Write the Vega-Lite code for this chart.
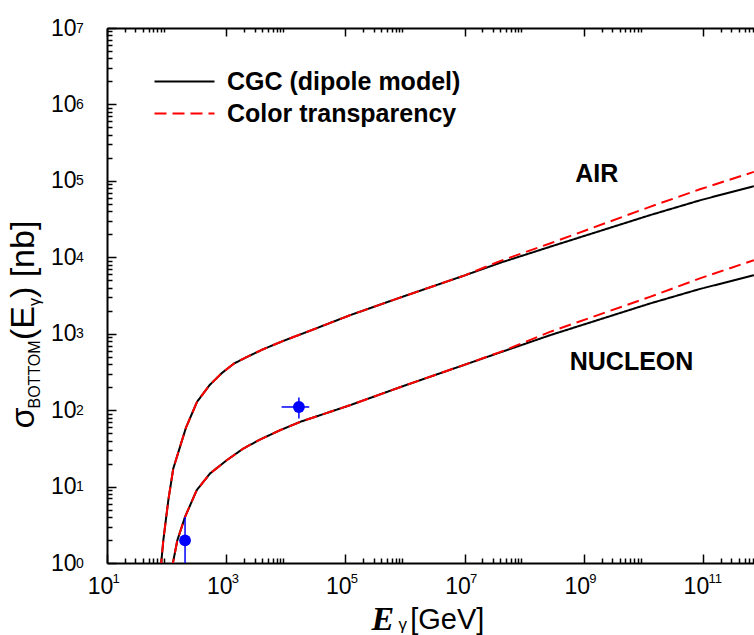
{
  "$schema": "https://vega.github.io/schema/vega-lite/v6.json",
  "autosize": {"type": "none"},
  "padding": {"left": 107, "top": 28, "right": 0, "bottom": 72},
  "width": 647,
  "height": 535,
  "background": "white",
  "datasets": {
    "curves": [
      {"E": 79.1, "sigma": 0.80, "model": "CGC (dipole model)", "target": "air"},
      {"E": 88.1, "sigma": 1.98, "model": "CGC (dipole model)", "target": "air"},
      {"E": 106.9, "sigma": 6.62, "model": "CGC (dipole model)", "target": "air"},
      {"E": 129.4, "sigma": 17.2, "model": "CGC (dipole model)", "target": "air"},
      {"E": 211.8, "sigma": 59.2, "model": "CGC (dipole model)", "target": "air"},
      {"E": 323.6, "sigma": 128, "model": "CGC (dipole model)", "target": "air"},
      {"E": 524.8, "sigma": 212, "model": "CGC (dipole model)", "target": "air"},
      {"E": 851, "sigma": 307, "model": "CGC (dipole model)", "target": "air"},
      {"E": 1352, "sigma": 407, "model": "CGC (dipole model)", "target": "air"},
      {"E": 2234, "sigma": 497, "model": "CGC (dipole model)", "target": "air"},
      {"E": 4188, "sigma": 627, "model": "CGC (dipole model)", "target": "air"},
      {"E": 9078, "sigma": 805, "model": "CGC (dipole model)", "target": "air"},
      {"E": 28900, "sigma": 1135, "model": "CGC (dipole model)", "target": "air"},
      {"E": 119400, "sigma": 1746, "model": "CGC (dipole model)", "target": "air"},
      {"E": 824000, "sigma": 2965, "model": "CGC (dipole model)", "target": "air"},
      {"E": 10160000, "sigma": 5808, "model": "CGC (dipole model)", "target": "air"},
      {"E": 39300000, "sigma": 8453, "model": "CGC (dipole model)", "target": "air"},
      {"E": 271000000, "sigma": 13710, "model": "CGC (dipole model)", "target": "air"},
      {"E": 12900000000, "sigma": 35560, "model": "CGC (dipole model)", "target": "air"},
      {"E": 89000000000, "sigma": 55600, "model": "CGC (dipole model)", "target": "air"},
      {"E": 718000000000, "sigma": 85310, "model": "CGC (dipole model)", "target": "air"},
      {"E": 120.8, "sigma": 0.80, "model": "CGC (dipole model)", "target": "nucleon"},
      {"E": 151.4, "sigma": 1.98, "model": "CGC (dipole model)", "target": "nucleon"},
      {"E": 203.7, "sigma": 4.0, "model": "CGC (dipole model)", "target": "nucleon"},
      {"E": 319.9, "sigma": 8.95, "model": "CGC (dipole model)", "target": "nucleon"},
      {"E": 534.6, "sigma": 14.8, "model": "CGC (dipole model)", "target": "nucleon"},
      {"E": 1019, "sigma": 22.1, "model": "CGC (dipole model)", "target": "nucleon"},
      {"E": 1936, "sigma": 31.4, "model": "CGC (dipole model)", "target": "nucleon"},
      {"E": 3690, "sigma": 41.2, "model": "CGC (dipole model)", "target": "nucleon"},
      {"E": 8000, "sigma": 54.6, "model": "CGC (dipole model)", "target": "nucleon"},
      {"E": 17300, "sigma": 70.1, "model": "CGC (dipole model)", "target": "nucleon"},
      {"E": 119400, "sigma": 115.9, "model": "CGC (dipole model)", "target": "nucleon"},
      {"E": 824000, "sigma": 199.5, "model": "CGC (dipole model)", "target": "nucleon"},
      {"E": 10160000, "sigma": 394, "model": "CGC (dipole model)", "target": "nucleon"},
      {"E": 39300000, "sigma": 568, "model": "CGC (dipole model)", "target": "nucleon"},
      {"E": 271000000, "sigma": 955, "model": "CGC (dipole model)", "target": "nucleon"},
      {"E": 12900000000, "sigma": 2483, "model": "CGC (dipole model)", "target": "nucleon"},
      {"E": 89000000000, "sigma": 3850, "model": "CGC (dipole model)", "target": "nucleon"},
      {"E": 718000000000, "sigma": 5834, "model": "CGC (dipole model)", "target": "nucleon"},
      {"E": 79.1, "sigma": 0.80, "model": "Color transparency", "target": "air"},
      {"E": 88.1, "sigma": 1.98, "model": "Color transparency", "target": "air"},
      {"E": 106.9, "sigma": 6.62, "model": "Color transparency", "target": "air"},
      {"E": 129.4, "sigma": 17.2, "model": "Color transparency", "target": "air"},
      {"E": 211.8, "sigma": 59.2, "model": "Color transparency", "target": "air"},
      {"E": 323.6, "sigma": 128, "model": "Color transparency", "target": "air"},
      {"E": 524.8, "sigma": 212, "model": "Color transparency", "target": "air"},
      {"E": 851, "sigma": 307, "model": "Color transparency", "target": "air"},
      {"E": 1352, "sigma": 407, "model": "Color transparency", "target": "air"},
      {"E": 2234, "sigma": 497, "model": "Color transparency", "target": "air"},
      {"E": 4188, "sigma": 627, "model": "Color transparency", "target": "air"},
      {"E": 9078, "sigma": 805, "model": "Color transparency", "target": "air"},
      {"E": 28900, "sigma": 1135, "model": "Color transparency", "target": "air"},
      {"E": 119400, "sigma": 1746, "model": "Color transparency", "target": "air"},
      {"E": 824000, "sigma": 2965, "model": "Color transparency", "target": "air"},
      {"E": 10160000, "sigma": 5808, "model": "Color transparency", "target": "air"},
      {"E": 39300000, "sigma": 8913, "model": "Color transparency", "target": "air"},
      {"E": 271000000, "sigma": 15170, "model": "Color transparency", "target": "air"},
      {"E": 12900000000, "sigma": 45710, "model": "Color transparency", "target": "air"},
      {"E": 89000000000, "sigma": 77500, "model": "Color transparency", "target": "air"},
      {"E": 718000000000, "sigma": 131200, "model": "Color transparency", "target": "air"},
      {"E": 120.8, "sigma": 0.80, "model": "Color transparency", "target": "nucleon"},
      {"E": 151.4, "sigma": 1.98, "model": "Color transparency", "target": "nucleon"},
      {"E": 203.7, "sigma": 4.0, "model": "Color transparency", "target": "nucleon"},
      {"E": 319.9, "sigma": 8.95, "model": "Color transparency", "target": "nucleon"},
      {"E": 534.6, "sigma": 14.8, "model": "Color transparency", "target": "nucleon"},
      {"E": 1019, "sigma": 22.1, "model": "Color transparency", "target": "nucleon"},
      {"E": 1936, "sigma": 31.4, "model": "Color transparency", "target": "nucleon"},
      {"E": 3690, "sigma": 41.2, "model": "Color transparency", "target": "nucleon"},
      {"E": 8000, "sigma": 54.6, "model": "Color transparency", "target": "nucleon"},
      {"E": 17300, "sigma": 70.1, "model": "Color transparency", "target": "nucleon"},
      {"E": 119400, "sigma": 115.9, "model": "Color transparency", "target": "nucleon"},
      {"E": 824000, "sigma": 199.5, "model": "Color transparency", "target": "nucleon"},
      {"E": 10160000, "sigma": 394, "model": "Color transparency", "target": "nucleon"},
      {"E": 39300000, "sigma": 575, "model": "Color transparency", "target": "nucleon"},
      {"E": 271000000, "sigma": 1057, "model": "Color transparency", "target": "nucleon"},
      {"E": 12900000000, "sigma": 3034, "model": "Color transparency", "target": "nucleon"},
      {"E": 89000000000, "sigma": 5300, "model": "Color transparency", "target": "nucleon"},
      {"E": 718000000000, "sigma": 9162, "model": "Color transparency", "target": "nucleon"}
    ],
    "pts": [
      {"E": 204, "sigma": 1.98, "Elo": 204, "Ehi": 204, "slo": 0.5, "shi": 4.0},
      {"E": 16600, "sigma": 110, "Elo": 8500, "Ehi": 24800, "slo": 77.6, "shi": 146}
    ],
    "labels": [
      {"E": 1660000000, "sigma": 122000, "label": "AIR"},
      {"E": 6340000000, "sigma": 421, "label": "NUCLEON"}
    ]
  },
  "resolve": {
    "scale": {"x": "shared", "y": "shared", "color": "shared", "strokeDash": "shared"},
    "axis": {"x": "independent", "y": "independent"}
  },
  "layer": [
    {
      "data": {"name": "curves"},
      "transform": [{"filter": "datum.model === 'CGC (dipole model)'"}],
      "mark": {"type": "line", "clip": true, "strokeWidth": 2},
      "encoding": {
        "x": {"field": "E", "type": "quantitative",
          "scale": {"type": "log", "domain": [10, 720000000000], "nice": false},
          "axis": {"orient": "bottom", "values": [10, 1000, 100000, 10000000, 1000000000, 100000000000],
            "labelExpr": "'10'", "ticks": false, "domain": true, "domainWidth": 2,
            "labelFontSize": 23, "labelAlign": "center", "labelBaseline": "top", "labelOffset": -7, "labelPadding": 12,
            "title": "E", "titleFont": "Liberation Serif", "titleFontSize": 34, "titleFontWeight": "bold", "titleFontStyle": "italic",
            "titleX": 264, "titleY": 66, "titleAlign": "left", "titleBaseline": "alphabetic", "titleAngle": 0}},
        "y": {"field": "sigma", "type": "quantitative",
          "scale": {"type": "log", "domain": [1, 10000000], "nice": false},
          "axis": {"orient": "left", "values": [1, 10, 100, 1000, 10000, 100000, 1000000, 10000000],
            "labelExpr": "'10'", "ticks": false, "domain": true, "domainWidth": 2,
            "labelFontSize": 23, "labelAlign": "right", "labelBaseline": "middle", "labelDy": 1, "labelPadding": 31,
            "title": "σ", "titleFontSize": 34, "titleAngle": 270,
            "titleX": -73.5, "titleY": 400, "titleAlign": "left", "titleBaseline": "alphabetic"}},
        "detail": {"field": "target"},
        "color": {"field": "model", "type": "nominal",
          "scale": {"domain": ["CGC (dipole model)", "Color transparency"], "range": ["#000000", "#ff0000"]},
          "legend": {"orient": "none", "legendX": 65, "legendY": 41, "title": null,
            "symbolType": "M-3,0H3", "symbolSize": 400, "symbolStrokeWidth": 2, "symbolFillColor": "transparent",
            "labelFont": "Liberation Sans", "labelFontWeight": "bold", "labelFontSize": 25, "labelColor": "black",
            "labelOffset": 30, "labelLimit": 600, "rowPadding": 6, "padding": 0}},
        "strokeDash": {"field": "model", "type": "nominal",
          "scale": {"domain": ["CGC (dipole model)", "Color transparency"], "range": [[1, 0], [12, 6]]},
          "legend": {"orient": "none", "legendX": 65, "legendY": 41, "title": null,
            "symbolType": "M-3,0H3", "symbolSize": 400, "symbolStrokeWidth": 2, "symbolFillColor": "transparent",
            "labelFont": "Liberation Sans", "labelFontWeight": "bold", "labelFontSize": 25, "labelColor": "black",
            "labelOffset": 30, "labelLimit": 600, "rowPadding": 6, "padding": 0}}
      }
    },
    {
      "data": {"name": "curves"},
      "transform": [{"filter": "datum.model === 'Color transparency'"}],
      "mark": {"type": "line", "clip": true, "strokeWidth": 2},
      "encoding": {
        "x": {"field": "E", "type": "quantitative",
          "scale": {"type": "log", "domain": [10, 720000000000], "nice": false},
          "axis": {"orient": "bottom", "values": [10, 1000, 100000, 10000000, 1000000000, 100000000000],
            "labelExpr": "'' + round(log(datum.value) / LN10)", "ticks": false, "domain": false,
            "labelFontSize": 13, "labelAlign": "left", "labelBaseline": "top", "labelOffset": 5, "labelPadding": 9,
            "title": "γ", "titleFontSize": 17, "titleX": 291, "titleY": 66, "titleAlign": "left", "titleBaseline": "alphabetic", "titleAngle": 0}},
        "y": {"field": "sigma", "type": "quantitative",
          "scale": {"type": "log", "domain": [1, 10000000], "nice": false},
          "axis": {"orient": "left", "values": [1, 10, 100, 1000, 10000, 100000, 1000000, 10000000],
            "labelExpr": "'' + round(log(datum.value) / LN10)", "ticks": false, "domain": false,
            "labelFontSize": 14, "labelAlign": "left", "labelBaseline": "middle", "labelDy": -9, "labelPadding": 31.5,
            "title": "BOTTOM", "titleFontSize": 16, "titleAngle": 270,
            "titleX": -67.7, "titleY": 380, "titleAlign": "left", "titleBaseline": "alphabetic"}},
        "detail": {"field": "target"},
        "color": {"field": "model", "type": "nominal",
          "scale": {"domain": ["CGC (dipole model)", "Color transparency"], "range": ["#000000", "#ff0000"]}},
        "strokeDash": {"field": "model", "type": "nominal",
          "scale": {"domain": ["CGC (dipole model)", "Color transparency"], "range": [[1, 0], [12, 6]]}}
      }
    },
    {
      "data": {"name": "pts"},
      "mark": {"type": "rule", "color": "#0000ff", "strokeWidth": 1.5, "clip": true},
      "encoding": {
        "x": {"field": "Elo", "type": "quantitative",
          "scale": {"type": "log", "domain": [10, 720000000000], "nice": false},
          "axis": {"orient": "bottom", "values": [10, 1000, 100000, 10000000, 1000000000, 100000000000],
            "labels": false, "domain": false, "ticks": true, "tickSize": 9, "offset": -9,
            "title": "[GeV]", "titleFontSize": 29, "titleX": 302.7, "titleY": 74.5, "titleAlign": "left", "titleBaseline": "alphabetic", "titleAngle": 0}},
        "x2": {"field": "Ehi"},
        "y": {"field": "sigma", "type": "quantitative",
          "scale": {"type": "log", "domain": [1, 10000000], "nice": false},
          "axis": {"orient": "left", "values": [1, 10, 100, 1000, 10000, 100000, 1000000, 10000000],
            "labels": false, "domain": false, "ticks": true, "tickSize": 9, "offset": -9,
            "title": "(E", "titleFontSize": 34, "titleAngle": 270,
            "titleX": -82.5, "titleY": 311.6, "titleAlign": "left", "titleBaseline": "alphabetic"}}
      }
    },
    {
      "data": {"name": "pts"},
      "mark": {"type": "rule", "color": "#0000ff", "strokeWidth": 1.5, "clip": true},
      "encoding": {
        "x": {"field": "E", "type": "quantitative",
          "scale": {"type": "log", "domain": [10, 720000000000], "nice": false},
          "axis": {"orient": "bottom",
            "values": [20, 30, 40, 50, 60, 70, 80, 90, 2000, 3000, 4000, 5000, 6000, 7000, 8000, 9000, 200000, 300000, 400000, 500000, 600000, 700000, 800000, 900000, 20000000, 30000000, 40000000, 50000000, 60000000, 70000000, 80000000, 90000000, 2000000000, 3000000000, 4000000000, 5000000000, 6000000000, 7000000000, 8000000000, 9000000000, 200000000000, 300000000000, 400000000000, 500000000000, 600000000000, 700000000000],
            "labels": false, "domain": false, "ticks": true, "tickSize": 5, "offset": -5, "title": null}},
        "y": {"field": "slo", "type": "quantitative",
          "scale": {"type": "log", "domain": [1, 10000000], "nice": false},
          "axis": {"orient": "left",
            "values": [2, 3, 4, 5, 6, 7, 8, 9, 20, 30, 40, 50, 60, 70, 80, 90, 200, 300, 400, 500, 600, 700, 800, 900, 2000, 3000, 4000, 5000, 6000, 7000, 8000, 9000, 20000, 30000, 40000, 50000, 60000, 70000, 80000, 90000, 200000, 300000, 400000, 500000, 600000, 700000, 800000, 900000, 2000000, 3000000, 4000000, 5000000, 6000000, 7000000, 8000000, 9000000],
            "labels": false, "domain": false, "ticks": true, "tickSize": 5, "offset": -5,
            "title": "γ", "titleFontSize": 16, "titleAngle": 270,
            "titleX": -73, "titleY": 277.6, "titleAlign": "left", "titleBaseline": "alphabetic"}},
        "y2": {"field": "shi"}
      }
    },
    {
      "data": {"name": "pts"},
      "mark": {"type": "point", "filled": true, "shape": "circle", "size": 140, "color": "#0000ff", "opacity": 1},
      "encoding": {
        "x": {"field": "E", "type": "quantitative",
          "scale": {"type": "log", "domain": [10, 720000000000], "nice": false},
          "axis": {"orient": "top", "values": [10, 1000], "labels": false, "ticks": false, "domain": true, "domainWidth": 2, "title": null}},
        "y": {"field": "sigma", "type": "quantitative",
          "scale": {"type": "log", "domain": [1, 10000000], "nice": false},
          "axis": {"orient": "left", "values": [1], "labels": false, "ticks": false, "domain": false,
            "title": ") [nb]", "titleFontSize": 34, "titleAngle": 270,
            "titleX": -73.5, "titleY": 269.6, "titleAlign": "left", "titleBaseline": "alphabetic"}}
      }
    },
    {
      "data": {"name": "labels"},
      "transform": [{"filter": "datum.label === 'AIR'"}],
      "mark": {"type": "text", "font": "Liberation Sans", "fontWeight": "bold", "fontSize": 25, "align": "center", "baseline": "middle", "color": "black"},
      "encoding": {
        "x": {"field": "E", "type": "quantitative",
          "scale": {"type": "log", "domain": [10, 720000000000], "nice": false},
          "axis": {"orient": "top", "values": [10, 1000, 100000, 10000000, 1000000000, 100000000000],
            "labels": false, "domain": false, "ticks": true, "tickSize": 8, "offset": -8, "title": null}},
        "y": {"field": "sigma", "type": "quantitative",
          "scale": {"type": "log", "domain": [1, 10000000], "nice": false}, "axis": null},
        "text": {"field": "label"}
      }
    },
    {
      "data": {"name": "labels"},
      "transform": [{"filter": "datum.label === 'NUCLEON'"}],
      "mark": {"type": "text", "font": "Liberation Sans", "fontWeight": "bold", "fontSize": 25, "align": "center", "baseline": "middle", "color": "black"},
      "encoding": {
        "x": {"field": "E", "type": "quantitative",
          "scale": {"type": "log", "domain": [10, 720000000000], "nice": false},
          "axis": {"orient": "top",
            "values": [20, 30, 40, 50, 60, 70, 80, 90, 2000, 3000, 4000, 5000, 6000, 7000, 8000, 9000, 200000, 300000, 400000, 500000, 600000, 700000, 800000, 900000, 20000000, 30000000, 40000000, 50000000, 60000000, 70000000, 80000000, 90000000, 2000000000, 3000000000, 4000000000, 5000000000, 6000000000, 7000000000, 8000000000, 9000000000, 200000000000, 300000000000, 400000000000, 500000000000, 600000000000, 700000000000],
            "labels": false, "domain": false, "ticks": true, "tickSize": 4, "offset": -4, "title": null}},
        "y": {"field": "sigma", "type": "quantitative",
          "scale": {"type": "log", "domain": [1, 10000000], "nice": false}, "axis": null},
        "text": {"field": "label"}
      }
    }
  ],
  "config": {
    "view": {"stroke": null},
    "axis": {"grid": false, "tickColor": "black", "tickWidth": 1.5, "domainColor": "black",
      "labelColor": "black", "titleColor": "black", "labelFont": "Liberation Sans", "titleFont": "Liberation Sans",
      "titleFontWeight": "normal", "labelOverlap": false, "labelFlush": false, "labelBound": false}
  }
}
